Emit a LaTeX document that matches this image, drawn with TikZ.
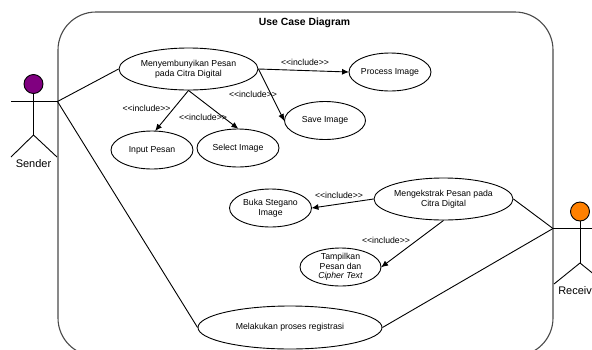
\documentclass[tikz,border=0pt]{standalone}
\usepackage{fontspec}
\setmainfont[Ligatures=TeXOff]{Liberation Sans}
\usetikzlibrary{shapes.geometric,arrows.meta}
\definecolor{framegray}{HTML}{4A4A4A}
\definecolor{sendercolor}{RGB}{128,0,128}
\definecolor{receivercolor}{RGB}{255,128,0}
\tikzset{
  ucase/.style n args={2}{ellipse,draw=black,fill=white,line width=0.9pt,inner sep=-14pt,
     minimum width=#1pt,minimum height=#2pt,align=center,
     font=\fontsize{8.7}{9.6}\selectfont},
  limb/.style={draw=black,line width=0.9pt},
  assoc/.style={draw=black,line width=0.9pt},
  incl/.style={draw=black,line width=0.9pt,-{Latex[length=7pt,width=6pt]},shorten >=-0.5pt},
  incllabel/.style={inner sep=0pt,font=\fontsize{8.7}{10}\selectfont},
  actorlabel/.style={inner sep=0pt,font=\fontsize{11}{13}\selectfont},
  head/.style={circle,draw=black,line width=0.9pt,minimum size=19pt,inner sep=0pt},
}
\begin{document}
\begin{tikzpicture}[x=1pt,y=-1pt]
\useasboundingbox (0,0) rectangle (592,349);
\fill[white] (0,0) rectangle (592,349);
\clip (0,0) rectangle (592,349);
% system frame
\draw[framegray,line width=1.1pt,rounded corners=38pt] (58,12) rectangle (553,356);
\node[inner sep=0pt,font=\fontsize{10.4}{12}\selectfont\bfseries] (title) at (304.5,22.5) {Use Case Diagram};
% use cases
\node[ucase={139}{42}] (hide) at (188.5,69) {Menyembunyikan Pesan\\pada Citra Digital};
\node[ucase={82}{38}] (proc) at (390,72) {Process Image};
\node[ucase={81}{38}] (save) at (325,120.5) {Save Image};
\node[ucase={82}{38}] (input) at (152,150) {Input Pesan};
\node[ucase={82}{38}] (select) at (238,148) {Select Image};
\node[ucase={82}{38}] (buka) at (270.5,208) {Buka Stegano\\Image};
\node[ucase={139}{42}] (ext) at (443.5,199) {Mengekstrak Pesan pada\\Citra Digital};
\node[ucase={81}{38}] (show) at (340.5,267) {Tampilkan\\Pesan dan\\\textit{Cipher Text}};
\node[ucase={184}{43}] (reg) at (290,327.5) {Melakukan proses registrasi};
% sender
\node[head,fill=sendercolor] (shead) at (33.5,84) {};
\coordinate (sl) at (11,101.5);
\coordinate (sr) at (57.5,101.5);
\coordinate (ship) at (33.5,135);
\coordinate (sfl) at (11,157);
\coordinate (sfr) at (57,157);
\draw[limb] (shead) -- (ship);
\draw[limb] (sl) -- (sr);
\draw[limb] (sfl) -- (ship) -- (sfr);
\node[actorlabel] (slabel) at (33.5,164) {Sender};
% receiver
\node[head,fill=receivercolor] (rhead) at (580,211.5) {};
\coordinate (rl) at (553,228.5);
\coordinate (rr) at (606,228.5);
\coordinate (rhip) at (580,263);
\coordinate (rfl) at (554,284);
\coordinate (rfr) at (606,284);
\draw[limb] (rhead) -- (rhip);
\draw[limb] (rl) -- (rr);
\draw[limb] (rfl) -- (rhip) -- (rfr);
\node[actorlabel] (rlabel) at (580,290.5) {Receiver};
% associations
\draw[assoc] (sr) -- (hide.west);
\draw[assoc] (sr) -- (reg.west);
\draw[assoc] (rl) -- (ext.east);
\draw[assoc] (rl) -- (reg.east);
% includes
\draw[incl] (hide.east) -- (proc.west);
\draw[incl] (hide.east) -- (save.west);
\draw[incl] (hide.south) -- (input.80);
\draw[incl] (hide.south) -- (select.north);
\draw[incl] (ext.west) -- (buka.east);
\draw[incl] (ext.south) -- (show.east);
% include labels
\node[incllabel] (l1) at (146.5,108) {<<include>>};
\node[incllabel] (l2) at (203,117.5) {<<include>>};
\node[incllabel] (l3) at (253,94) {<<include>>};
\node[incllabel] (l4) at (305,62) {<<include>>};
\node[incllabel] (l5) at (339,195.5) {<<include>>};
\node[incllabel] (l6) at (386,240) {<<include>>};
\end{tikzpicture}
\end{document}
